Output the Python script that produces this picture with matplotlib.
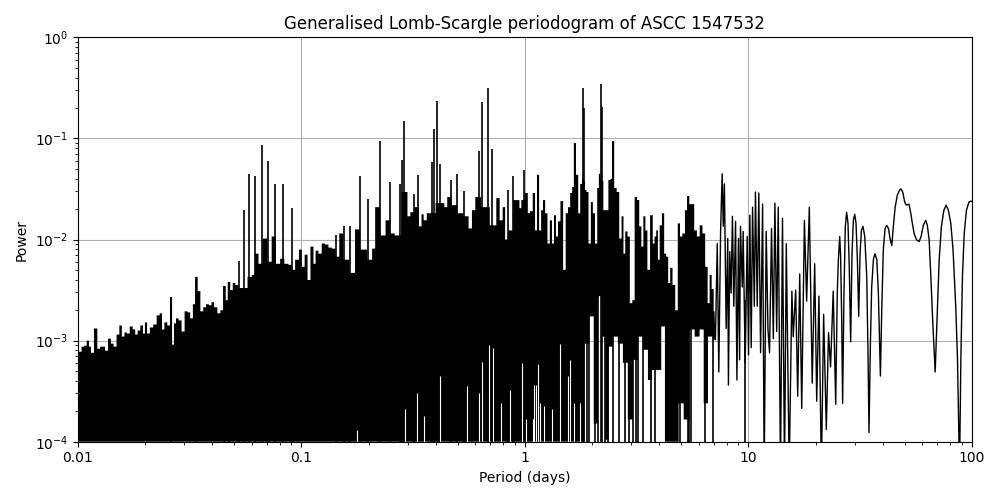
#!/usr/bin/env python3

import numpy as np
import matplotlib
matplotlib.use("Agg")
import matplotlib.pyplot as plt

# everything, as log10 of period (days) and log10 of power

# upper edge of the solid black mass
top_period = [-2.00, -1.99, -1.976, -1.966, -1.954, -1.946, -1.936, -1.919, -1.906, -1.894, -1.884, -1.872,
              -1.857, -1.846, -1.834, -1.819, -1.809, -1.797, -1.785, -1.775, -1.76, -1.749, -1.737, -1.727,
              -1.713, -1.704, -1.695, -1.685, -1.67, -1.655, -1.639, -1.628, -1.618, -1.607, -1.592, -1.583,
              -1.573, -1.566, -1.555, -1.543, -1.528, -1.516, -1.503, -1.491, -1.479, -1.47, -1.457, -1.446,
              -1.431, -1.421, -1.406, -1.397, -1.383, -1.368, -1.356, -1.342, -1.334, -1.324, -1.312, -1.301,
              -1.289, -1.274, -1.252, -1.229, -1.214, -1.199, -1.184, -1.162, -1.14, -1.125, -1.102, -1.087,
              -1.065, -1.05, -1.035, -1.02, -1.001,
              -0.994, -0.976, -0.968, -0.95, -0.941, -0.931, -0.916, -0.901, -0.886, -0.871, -0.856, -0.837,
              -0.823, -0.801, -0.767, -0.752, -0.722, -0.689, -0.677, -0.662, -0.632, -0.614, -0.591, -0.573,
              -0.531, -0.519, -0.505, -0.483, -0.465, -0.459, -0.446, -0.431, -0.367, -0.353, -0.341, -0.316,
              -0.289, -0.259, -0.244, -0.229, -0.214, -0.178, -0.135, -0.12, -0.105, -0.093, -0.083, -0.065,
              -0.038, -0.028,
              -0.02, -0.011, 0.01, 0.017, 0.029, 0.042, 0.05, 0.059, 0.069, 0.077, 0.086, 0.096, 0.107, 0.117,
              0.126, 0.135, 0.144, 0.153, 0.166, 0.177, 0.189, 0.198, 0.208, 0.216, 0.223, 0.234, 0.244, 0.252,
              0.26, 0.266, 0.272, 0.28, 0.29, 0.301, 0.308, 0.32, 0.328, 0.335, 0.341, 0.347, 0.356, 0.368,
              0.38, 0.387, 0.395, 0.405, 0.417, 0.428, 0.438, 0.445, 0.454, 0.465, 0.475, 0.487, 0.496, 0.507,
              0.517, 0.526, 0.535, 0.544, 0.553, 0.568, 0.577, 0.584, 0.592, 0.599, 0.608, 0.619, 0.628, 0.637,
              0.646, 0.655, 0.667, 0.679, 0.69, 0.699, 0.711, 0.722, 0.731, 0.741, 0.752, 0.764, 0.776, 0.789,
              0.801, 0.813, 0.823, 0.831, 0.841, 0.849]
top_power = [-3.29, -3.11, -3.06, -3.05, -3.0, -3.06, -3.12, -2.88, -3.08, -3.06, -3.06, -3.1,
             -2.98, -3.03, -3.06, -2.94, -2.85, -2.96, -2.92, -2.93, -2.86, -2.89, -2.94, -2.9,
             -2.85, -2.93, -2.82, -2.93, -2.87, -2.84, -2.75, -2.73, -2.89, -2.82, -2.85, -2.57,
             -3.04, -2.83, -2.78, -2.8, -2.91, -2.71, -2.72, -2.78, -2.64, -2.37, -2.51, -2.71,
             -2.67, -2.64, -2.65, -2.62, -2.67, -2.73, -2.7, -2.46, -2.6, -2.42, -2.5, -2.43,
             -2.45, -2.48, -2.48, -2.37, -2.35, -2.14, -2.24, -1.99, -2.22, -1.97, -2.24, -2.19,
             -2.24, -2.25, -2.3, -2.2, -2.1,
             -2.27, -2.15, -2.4, -2.07, -2.24, -2.11, -2.14, -2.04, -2.05, -2.08, -2.09, -2.17,
             -1.94, -2.2, -2.33, -1.9, -2.1, -2.2, -2.09, -1.68, -1.96, -1.81, -1.94, -1.96,
             -1.53, -1.77, -1.73, -1.68, -1.87, -1.75, -1.81, -1.74, -1.64, -1.68, -1.58, -1.66,
             -1.74, -1.77, -1.89, -1.71, -1.58, -1.68, -1.86, -1.59, -1.81, -1.68, -2.0, -1.91,
             -1.61, -1.61,
             -1.69, -1.61, -1.54, -1.74, -1.72, -1.54, -1.91, -1.36, -1.91, -1.71, -1.61, -1.74, -2.04, -1.81,
             -2.04, -1.76, -1.97, -1.82, -1.62, -2.3, -1.74, -1.68, -1.54, -1.48, -1.05, -1.36, -1.74, -1.45,
             -1.4, -1.42, -1.51, -1.53, -2.04, -1.63, -1.74, -2.04, -1.49, -1.35, -1.4, -1.42, -1.71, -1.71,
             -1.41, -1.4, -1.03, -1.49, -1.53, -1.99, -1.77, -2.14, -1.92, -1.97, -2.63, -2.6, -1.58, -1.61,
             -1.87, -2.07, -1.77, -1.91, -2.3, -1.76, -2.04, -1.97, -1.91, -2.2, -1.86, -1.74, -2.14, -2.17,
             -2.43, -2.28, -2.45, -2.7, -1.84, -1.97, -1.94, -1.71, -1.57, -1.65, -1.65, -1.91, -1.97, -1.86,
             -1.94, -2.27, -2.63, -2.35, -2.49, -2.71]

# lower edge of the mass, it sits on the axis up to a period of about 1.8 days
bottom_period = [-2.0, 0.256, 0.278, 0.301, 0.316, 0.338, 0.353, 0.368, 0.383, 0.405, 0.428, 0.45, 0.472, 0.495,
                 0.517, 0.54, 0.562, 0.577, 0.599, 0.622, 0.632, 0.681, 0.696, 0.726, 0.749, 0.771, 0.793, 0.808,
                 0.831, 0.853]
bottom_power = [-4.0, -4.0, -3.03, -2.76, -3.82, -2.56, -2.96, -3.98, -3.06, -2.96, -3.03, -3.22, -3.78, -3.19,
                -2.96, -3.09, -3.39, -3.29, -3.29, -2.86, -4.0, -4.0, -3.62, -3.78, -2.89, -2.96, -2.89, -3.62,
                -2.96, -2.99]

# narrow peaks standing clear of the mass
spike_period = [-1.583, -1.471, -1.344, -1.325, -1.28, -1.258, -1.232, -1.207, -1.177, -1.149, -1.116, -1.083,
                -1.043, -0.846, -0.811, -0.782, -0.737, -0.701, -0.65, -0.602, -0.558, -0.549, -0.54, -0.495,
                -0.477, -0.416, -0.405, -0.392, -0.381, -0.329, -0.302, -0.272, -0.204, -0.19, -0.163, -0.147,
                -0.074, -0.052, -0.002, 0.043, 0.059, 0.06, 0.223, 0.26, 0.266, 0.341, 0.347, 0.395, 0.496, 0.507,
                0.731]
spike_power = [-2.57, -2.37, -2.46, -2.42, -2.21, -1.71, -1.347, -1.37, -1.067, -1.225, -1.455, -1.455,
               -1.686, -1.96, -1.87, -1.87, -1.37, -1.6, -1.03, -1.43, -1.45, -1.21, -0.83, -1.55,
               -1.36, -1.23, -0.91, -0.63, -1.25, -1.41, -1.35, -1.52, -1.12, -0.64, -0.5, -1.1,
               -1.51, -1.37, -1.31, -1.54, -1.36, -1.36, -1.05, -0.5, -0.7, -0.46, -0.69, -1.03, -1.58, -1.61,
               -1.57]

# bars that reach the bottom of the axis below the ragged part
bar_period = [0.278, 0.289, 0.316, 0.326, 0.36, 0.371, 0.423, 0.45, 0.465, 0.484, 0.529, 0.565, 0.584, 0.693,
              0.735, 0.744, 0.808, 0.843, 0.983]
bar_power = [-2.6, -2.6, -2.9, -2.5, -2.6, -2.6, -2.5, -2.8, -2.7, -3.0, -2.5, -2.7, -2.8, -2.6,
             -2.3, -2.3, -2.5, -2.8, -2.6]

# thin white slits at the foot of the mass
slit_period = [-0.749, -0.538, -0.484, -0.453, -0.381, -0.259, -0.207, -0.192, -0.162, -0.144, -0.108, -0.068,
               -0.013, 0.007, 0.037, 0.039, 0.05, 0.057, 0.069, 0.084, 0.122, 0.159, 0.193, 0.204, 0.219, 0.246]
slit_power = [-3.88, -3.68, -3.52, -3.75, -3.35, -3.45, -3.52, -3.21, -3.04, -3.07, -3.62, -3.49,
              -3.22, -3.78, -3.78, -3.44, -3.44, -3.23, -3.62, -3.65, -3.68, -3.03, -3.35, -3.19, -3.62, -3.62]

# the long period end, where the line can be followed on its own
line_period = [0.853, 0.861, 0.868, 0.876, 0.883, 0.888, 0.893, 0.901, 0.908, 0.911, 0.917, 0.923, 0.929, 0.935,
               0.943, 0.949, 0.956, 0.961, 0.965, 0.973, 0.977, 0.986, 0.995, 1.001, 1.007, 1.013, 1.019, 1.027,
               1.032, 1.04, 1.047, 1.055, 1.064, 1.071, 1.08, 1.088, 1.095, 1.104, 1.112, 1.119, 1.127, 1.134,
               1.144, 1.153, 1.162, 1.17, 1.183, 1.195, 1.201, 1.212, 1.221, 1.23, 1.239, 1.251, 1.261, 1.273,
               1.286, 1.297, 1.306, 1.316, 1.327, 1.337, 1.349, 1.359, 1.368, 1.38, 1.391, 1.398, 1.403, 1.409,
               1.413, 1.418, 1.422, 1.428, 1.434, 1.44, 1.446, 1.452, 1.458, 1.464, 1.47, 1.476, 1.482, 1.488,
               1.494, 1.5, 1.506, 1.513, 1.521, 1.53, 1.536, 1.54, 1.546, 1.552, 1.56, 1.567, 1.575, 1.582,
               1.588, 1.591, 1.597, 1.604, 1.612, 1.619, 1.627, 1.634, 1.642, 1.649, 1.657, 1.667, 1.677, 1.683,
               1.691, 1.7, 1.707, 1.719, 1.727, 1.734, 1.742, 1.752, 1.764, 1.773, 1.783, 1.794, 1.801, 1.809,
               1.816, 1.825, 1.836, 1.845, 1.854, 1.864, 1.875, 1.885, 1.895, 1.906, 1.916, 1.928, 1.936, 1.945,
               1.951, 1.958, 1.966, 1.976, 1.987, 1.996, 2.006]
line_power = [-2.99, -2.04, -3.31, -1.92, -1.35, -1.87, -1.45, -2.88, -1.99, -3.44, -2.12, -2.53, -1.77, -2.66,
              -1.82, -3.39, -1.99, -3.19, -1.87, -2.47, -1.92, -3.22, -1.97, -3.14, -1.76, -3.07, -1.68, -2.66,
              -1.53, -2.66, -1.54, -3.12, -1.65, -4.3, -1.92, -2.89, -3.12, -1.89, -2.98, -1.64, -2.91, -1.68,
              -4.3, -1.79, -4.3, -2.04, -4.3, -2.51, -2.96, -2.5, -3.55, -2.34, -3.67, -1.81, -2.61, -1.68,
              -3.42, -2.24, -3.6, -2.56, -4.3, -2.74, -3.88, -2.92, -3.26, -2.51, -3.63, -2.53, -2.2, -1.97,
              -2.17, -2.8, -3.62, -2.53, -1.87, -1.73, -1.84, -2.3, -3.01, -2.14, -1.81, -1.75, -1.84, -2.2,
              -2.76, -2.14, -1.91, -1.87, -1.97, -2.37, -3.19, -3.91, -3.06, -2.47, -2.19, -2.14, -2.2, -2.53,
              -3.09, -3.35, -2.7, -2.1, -1.89, -1.86, -1.89, -1.99, -2.06, -1.87, -1.68, -1.56, -1.51, -1.5,
              -1.53, -1.63, -1.66, -1.65, -1.74, -1.84, -1.94, -2.0, -2.02, -1.97, -1.86, -1.81, -1.86, -2.0,
              -2.33, -2.8, -3.31, -2.76, -2.2, -1.87, -1.71, -1.66, -1.71, -1.84, -2.1, -2.66, -3.19, -4.3,
              -3.19, -2.37, -1.94, -1.71, -1.63, -1.62, -1.63]

period_ticks = [0.01, 0.1, 1, 10, 100]
period_labels = ['0.01', '0.1', '1', '10', '100']


def unlog(values):
    return np.power(10.0, np.array(values))


def steps(x, y):
    # blocky edge, the dense line reads as separate bars rather than smooth slopes
    x = np.array(x)
    y = np.array(y)
    mid = (x[:-1] + x[1:]) / 2
    xs = np.concatenate([[x[0]], np.repeat(mid, 2), [x[-1]]])
    return unlog(xs), unlog(np.repeat(y, 2))


fig, ax = plt.subplots(figsize=(10, 5), dpi=100)

top_x, top_y = steps(top_period, top_power)
low_x, low_y = steps(bottom_period, bottom_power)
ax.fill(np.concatenate([top_x, low_x[::-1]]), np.concatenate([top_y, low_y[::-1]]),
        color='k', linewidth=0)
ax.vlines(unlog(spike_period), 1e-4, unlog(spike_power), color='k', linewidth=1.2)
ax.vlines(unlog(bar_period), 1e-4, unlog(bar_power), color='k', linewidth=1.2)
ax.vlines(unlog(slit_period), 1e-4, unlog(slit_power), color='w', linewidth=0.8)
ax.plot(unlog(line_period), unlog(line_power), color='k', linewidth=1.0)

ax.set_xscale('log')
ax.set_yscale('log')
ax.set_xlim(0.01, 100)
ax.set_ylim(1e-4, 1)
ax.set_xticks(period_ticks)
ax.set_xticklabels(period_labels)
ax.set_axisbelow(True)
ax.grid(True)

ax.set_xlabel('Period (days)')
ax.set_ylabel('Power')
ax.set_title('Generalised Lomb-Scargle periodogram of ASCC 1547532')

fig.tight_layout()
fig.savefig('out.png')
